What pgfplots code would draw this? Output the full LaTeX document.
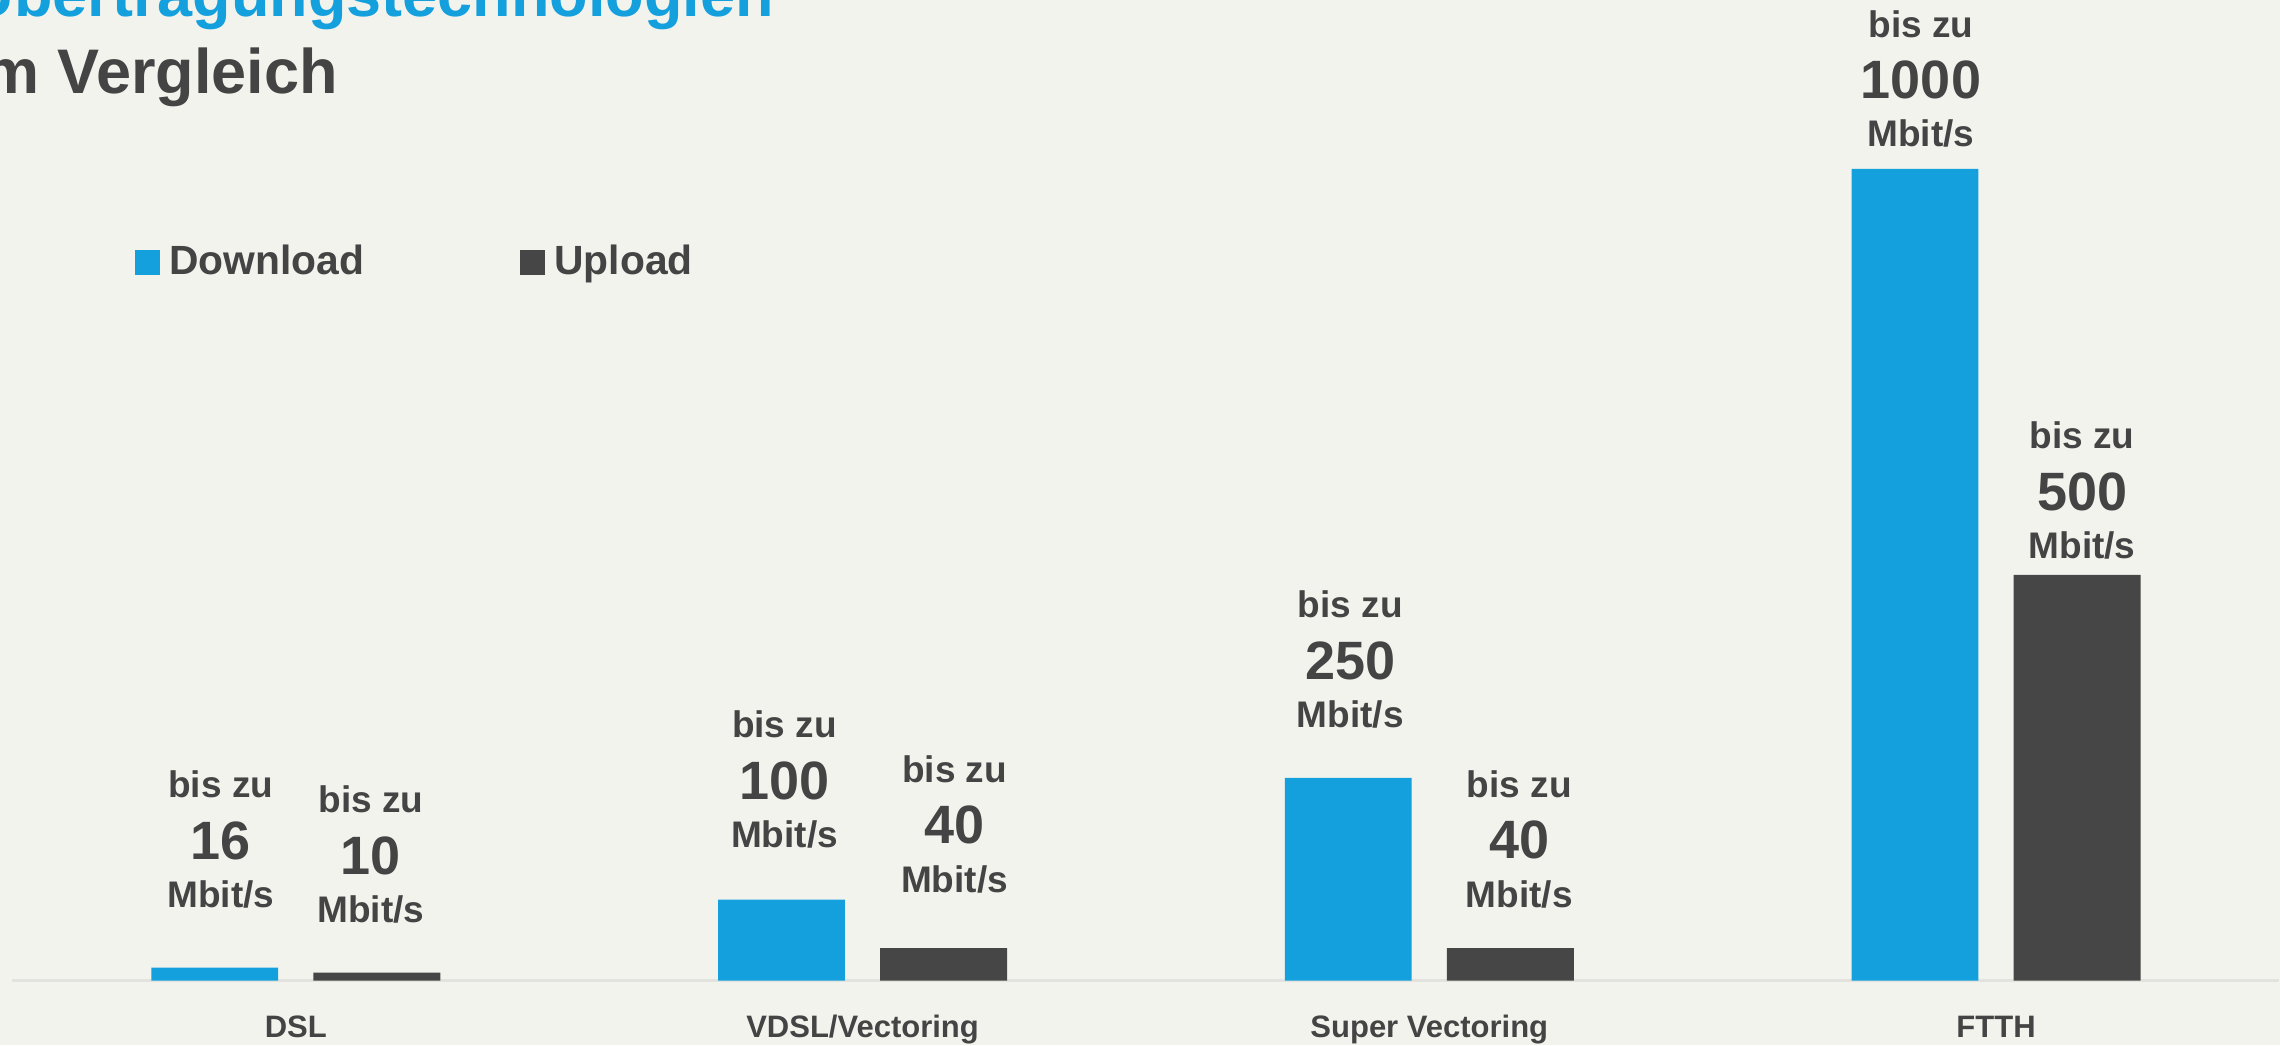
\documentclass[border=0pt]{standalone}
\usepackage{pgfplots}
\pgfplotsset{compat=1.18}
\usepackage{pgfplotstable}
\usepackage{fontspec}
\setmainfont{Liberation Sans}
\definecolor{bg}{HTML}{F3F3EE}
\definecolor{tblue}{HTML}{149FDD}
\definecolor{tdark}{HTML}{464646}
\definecolor{ttext}{HTML}{444444}
\definecolor{tline}{HTML}{E2E2DE}

\pgfplotstableread{
x y lab off xo
0 16 16 60 6
1 100 100 52 3
2 250 250 50 2
3 1000 1000 22 6
}\down
\pgfplotstableread{
x y lab off xo
0 10 10 50 -6
1 40 40 56 11
2 40 40 41 9
3 500 500 16 5
}\up

\newcommand{\barlab}[1]{\vbox{\offinterlineskip\halign{\hfil##\hfil\cr
\vrule height 20pt depth 0pt width 0pt\bfseries\fontsize{18.5}{20}\selectfont bis zu\cr
\vrule height 30.5pt depth 0pt width 0pt\bfseries\fontsize{27}{30}\selectfont #1\cr
\vrule height 24pt depth 0pt width 0pt\bfseries\fontsize{18.5}{20}\selectfont Mbit/s\cr}}}

\begin{document}
\begin{tikzpicture}[font=\bfseries]
\useasboundingbox (0pt,0pt) rectangle (1140pt,522.5pt);
\clip (0pt,0pt) rectangle (1140pt,522.5pt);
\fill[bg] (0pt,0pt) rectangle (1140pt,522.5pt);
\node[anchor=base east, inner sep=0pt, text=tblue, font=\bfseries\fontsize{31.5}{35}\selectfont] at (387pt,514pt) {Übertragungstechnologien};
\node[anchor=base east, inner sep=0pt, text=ttext, font=\bfseries\fontsize{31.5}{35}\selectfont] at (169pt,475.5pt) {im Vergleich};
\begin{axis}[
  at={(147.9pt,32.15pt)}, anchor=origin,
  scale only axis, width=1133.5pt, height=405.85pt,
  xmin=-0.5, xmax=3.5, ymin=0, ymax=1000,
  axis x line=bottom, axis y line=none,
  x axis line style={-, draw=tline, line width=1.3pt},
  xtick={0,1,2,3},
  xticklabels={DSL, VDSL/Vectoring, Super Vectoring, FTTH},
  major tick length=0pt,
  xticklabel style={anchor=base, yshift=-28.2pt, inner sep=0pt, font=\bfseries\fontsize{15.5}{17}\selectfont, text=ttext},
  ybar, bar width=0.224, clip=false,
  point meta=explicit symbolic,
  visualization depends on={\thisrow{off}\as\myoff},
  visualization depends on={\thisrow{xo}\as\myxo},
  nodes near coords={\barlab{\pgfplotspointmeta}},
  nodes near coords style={anchor=base, text=ttext, inner sep=0pt, yshift=\myoff*0.5pt, xshift=\myxo*0.5pt},
  legend columns=2,
  legend style={draw=none, fill=none, inner sep=0pt, outer sep=0pt,
    at={(0.05426,0.8867)}, anchor=west,
    nodes={inner sep=0pt, text height=14pt, text depth=0pt, text=ttext, font=\bfseries\fontsize{20.4}{22}\selectfont},
    column sep=0pt,
    /tikz/every odd column/.append style={column sep=4.5pt},
    /tikz/every even column/.append style={column sep=78pt}},
]
\addplot[fill=tblue, draw=none, bar shift=-0.143,
  legend image code/.code={\fill[tblue] (0pt,-7pt) rectangle (12.5pt,5.5pt);}]
  table[x=x, y=y, meta=lab]{\down};
\addplot[fill=tdark, draw=none, bar shift=0.143,
  legend image code/.code={\fill[tdark] (0pt,-7pt) rectangle (12.5pt,5.5pt);}]
  table[x=x, y=y, meta=lab]{\up};
\legend{Download, Upload}
\end{axis}
\end{tikzpicture}
\end{document}
